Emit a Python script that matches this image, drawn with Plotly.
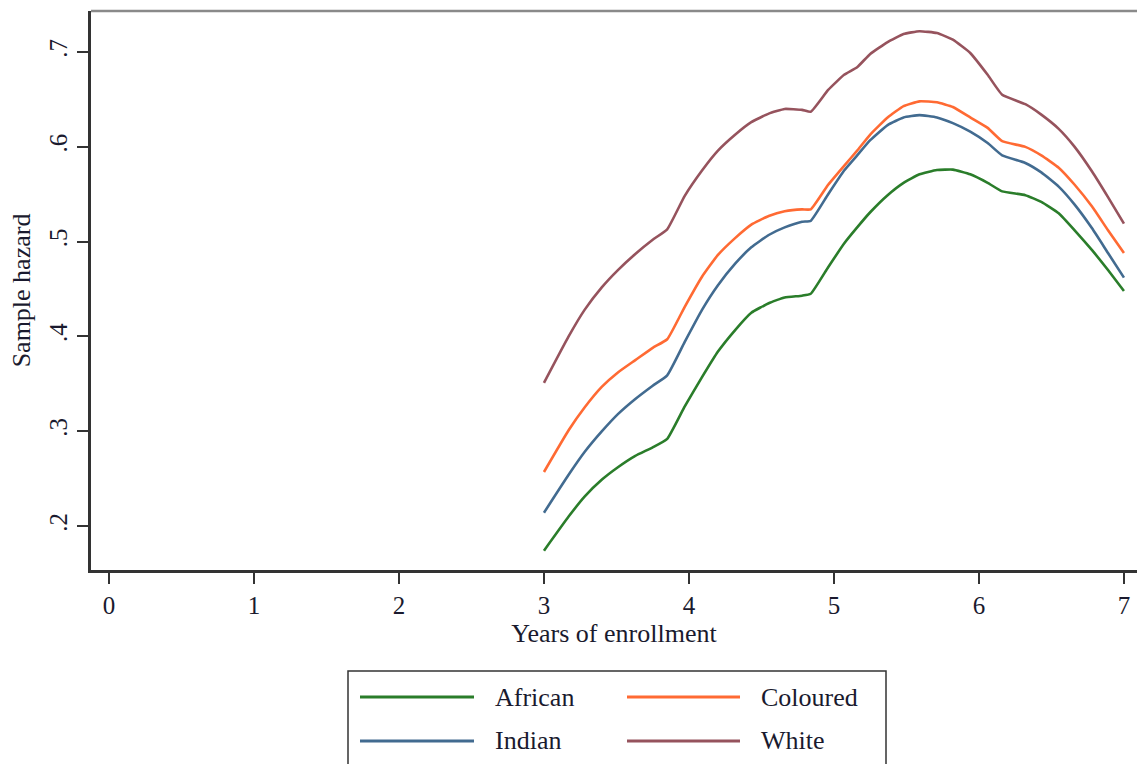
import plotly.graph_objects as go

# Years of enrollment at which the smoothed hazards are evaluated
years = [3.00, 3.17, 3.28, 3.40, 3.51, 3.63, 3.75, 3.85, 3.97, 4.09, 4.20, 4.32,
         4.43, 4.55, 4.66, 4.78, 4.84, 4.96, 5.07, 5.16, 5.25, 5.37, 5.48, 5.59,
         5.71, 5.82, 5.94, 6.06, 6.16, 6.32, 6.43, 6.55, 6.66, 6.78, 6.89, 7.00]

african = [0.174, 0.210, 0.231, 0.249, 0.262, 0.274, 0.283, 0.292, 0.326, 0.357, 0.384, 0.407,
           0.425, 0.435, 0.441, 0.443, 0.445, 0.473, 0.498, 0.515, 0.531, 0.549, 0.562, 0.571,
           0.5755, 0.576, 0.571, 0.562, 0.553, 0.549, 0.542, 0.530, 0.512, 0.491, 0.470, 0.448]

coloured = [0.257, 0.301, 0.325, 0.347, 0.362, 0.375, 0.388, 0.397, 0.431, 0.463, 0.486, 0.504,
            0.518, 0.527, 0.532, 0.534, 0.534, 0.560, 0.580, 0.596, 0.613, 0.631, 0.643, 0.648,
            0.647, 0.642, 0.631, 0.620, 0.606, 0.600, 0.591, 0.578, 0.560, 0.537, 0.512, 0.488]

indian = [0.214, 0.254, 0.278, 0.300, 0.318, 0.334, 0.348, 0.359, 0.394, 0.428, 0.454, 0.477,
          0.494, 0.507, 0.515, 0.521, 0.522, 0.550, 0.575, 0.591, 0.607, 0.623, 0.631, 0.6335,
          0.631, 0.625, 0.616, 0.604, 0.591, 0.583, 0.573, 0.558, 0.539, 0.514, 0.488, 0.462]

white = [0.351, 0.400, 0.428, 0.452, 0.470, 0.487, 0.502, 0.513, 0.548, 0.575, 0.596, 0.613,
         0.626, 0.635, 0.640, 0.639, 0.637, 0.660, 0.676, 0.684, 0.698, 0.7105, 0.719, 0.722,
         0.720, 0.713, 0.699, 0.676, 0.655, 0.645, 0.634, 0.619, 0.600, 0.574, 0.547, 0.519]

series_names = ["African", "Coloured", "Indian", "White"]
series_values = [african, coloured, indian, white]
series_colors = ["#2a7d2a", "#ff6a33", "#426b90", "#96535d"]

x_ticks = [0, 1, 2, 3, 4, 5, 6, 7]
y_ticks = [0.2, 0.3, 0.4, 0.5, 0.6, 0.7]
y_ticktext = [".2", ".3", ".4", ".5", ".6", ".7"]

W, H = 1137, 764
L, T, R, B = 91, 11, 0, 194
FONT = "Liberation Serif"


def px(xp):
    return (xp - L) / (W - L - R)


def py(yp):
    return (H - B - yp) / (H - B - T)


fig = go.Figure()
for name, vals, col in zip(series_names, series_values, series_colors):
    fig.add_trace(go.Scatter(
        x=years, y=vals, mode="lines", name=name,
        line=dict(color=col, width=2.6, shape="spline", smoothing=0.4),
        showlegend=False,
    ))

fig.update_layout(
    width=W, height=H,
    margin=dict(l=L, r=R, t=T, b=B, pad=0),
    paper_bgcolor="white", plot_bgcolor="white",
    font=dict(family=FONT, size=25, color="#1a1a2e"),
    xaxis=dict(
        range=[-0.124, 7.09], tickvals=x_ticks, ticks="outside", ticklen=11,
        tickwidth=2, tickcolor="#333", showline=True, linewidth=2.5, linecolor="#333",
        showgrid=False, zeroline=False,
        title=dict(text="Years of enrollment", font=dict(size=26), standoff=6),
    ),
    yaxis=dict(
        range=[0.1536, 0.7433], tickvals=y_ticks, ticktext=y_ticktext, tickangle=-90,
        ticks="outside", ticklen=11, tickwidth=2, tickcolor="#333",
        showline=True, linewidth=2.5, linecolor="#333", showgrid=False, zeroline=False,
        title=dict(text="Sample hazard", font=dict(size=26), standoff=8),
    ),
)

# Upper frame line of the plot region
fig.add_shape(type="line", xref="paper", yref="paper", x0=0, x1=1, y0=1, y1=1,
              line=dict(color="#8a8a8a", width=2.5))

# Legend box with two columns of line keys
fig.add_shape(type="rect", xref="paper", yref="paper",
              x0=px(348), x1=px(886), y0=py(790), y1=py(671),
              line=dict(color="#333", width=1.5), fillcolor="white", layer="above")
key_pos = [(360, 474, 493, 697), (627, 740, 759, 697), (360, 474, 493, 741), (627, 740, 759, 741)]
for (x0, x1, xt, yr), name, col in zip(key_pos, series_names, series_colors):
    fig.add_shape(type="line", xref="paper", yref="paper",
                  x0=px(x0), x1=px(x1), y0=py(yr), y1=py(yr),
                  line=dict(color=col, width=3))
    fig.add_annotation(xref="paper", yref="paper", x=px(xt), y=py(yr), text=name,
                       showarrow=False, xanchor="left", yanchor="middle",
                       font=dict(family=FONT, size=26, color="#1a1a2e"))

fig.write_html("out.html")
